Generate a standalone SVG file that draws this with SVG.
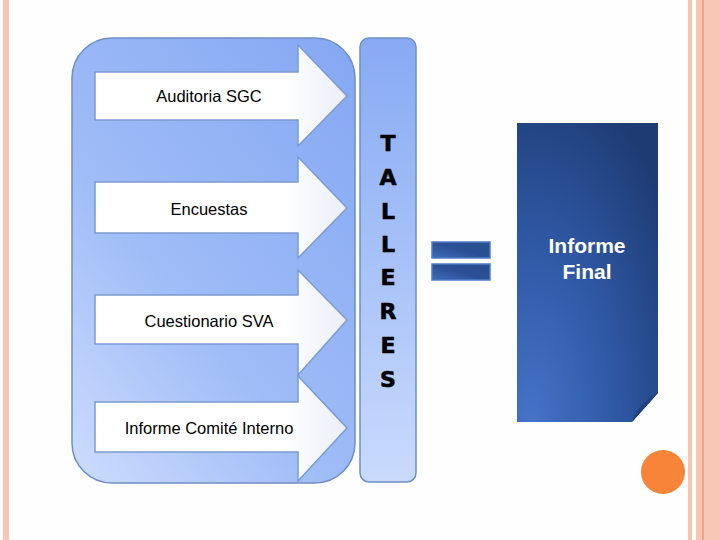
<svg xmlns="http://www.w3.org/2000/svg" width="720" height="540" viewBox="0 0 720 540">
<defs>
<linearGradient id="gBig" x1="0.9" y1="0" x2="0.1" y2="1">
<stop offset="0" stop-color="#87a9f3"/>
<stop offset="0.6" stop-color="#9fbcf7"/>
<stop offset="1" stop-color="#c8d9fc"/>
</linearGradient>
<linearGradient id="gCol" x1="0" y1="0" x2="0" y2="1">
<stop offset="0" stop-color="#87aaf4"/>
<stop offset="1" stop-color="#c9dafc"/>
</linearGradient>
<linearGradient id="gArrow" x1="0" y1="0" x2="1" y2="0">
<stop offset="0.75" stop-color="#ffffff"/>
<stop offset="1" stop-color="#eaeef6"/>
</linearGradient>
<radialGradient id="gDoc" cx="0.1" cy="1" r="1.2">
<stop offset="0" stop-color="#4673c8"/>
<stop offset="0.5" stop-color="#2f58a4"/>
<stop offset="1" stop-color="#1e3b73"/>
</radialGradient>
<linearGradient id="gEq" x1="0" y1="1" x2="1" y2="0">
<stop offset="0" stop-color="#3f6bbd"/>
<stop offset="0.5" stop-color="#2b4f95"/>
<stop offset="1" stop-color="#2a4d90"/>
</linearGradient>
<style>
.arrow{fill:url(#gArrow);stroke:#7c9bd0;stroke-width:1.5}
.lbl{font-family:"Liberation Sans",Arial,sans-serif;font-size:16.5px;fill:#000;text-anchor:middle}
.tl{font-family:"DejaVu Sans","Liberation Sans",sans-serif;font-weight:bold;font-size:22px;fill:#000;stroke:#000;stroke-width:0.6;text-anchor:middle}
.eq{fill:url(#gEq);stroke:#4f7cc4;stroke-width:1.5}
.fin{font-family:"Liberation Sans",Arial,sans-serif;font-size:21px;font-weight:bold;fill:#fff;text-anchor:middle}
</style>
</defs>
<rect x="0" y="0" width="720" height="540" fill="#fefefe"/>
<g id="borders">
<rect x="3" y="0" width="6" height="540" fill="#f8c5b1"/>
<rect x="688" y="0" width="4" height="540" fill="#f8c5b1"/>
<rect x="696" y="0" width="6" height="540" fill="#f8c5b1"/>
<rect x="702" y="0" width="2" height="540" fill="#eda586"/>
<rect x="704" y="0" width="16" height="540" fill="#f9c8b5"/>
</g>
<g id="container">
<rect x="72" y="38" width="283" height="445" rx="40" ry="40" fill="url(#gBig)" stroke="#6f8ec4" stroke-width="1.5"/>
</g>
<g id="a1">
<path class="arrow" d="M95,72 H298 V45 L347,96 L298,146 V120 H95 Z"/>
<text class="lbl" x="209" y="102">Auditoria SGC</text>
</g>
<g id="a2">
<path class="arrow" d="M95,182 H298 V157 L347,208 L298,258 V233 H95 Z"/>
<text class="lbl" x="209" y="215">Encuestas</text>
</g>
<g id="a3">
<path class="arrow" d="M95,295 H298 V270 L347,320 L298,375 V344 H95 Z"/>
<text class="lbl" x="209" y="327">Cuestionario SVA</text>
</g>
<g id="a4">
<path class="arrow" d="M95,402 H298 V376 L347,428 L298,481 V452 H95 Z"/>
<text class="lbl" x="209" y="434">Informe Comité Interno</text>
</g>
<g id="talleres">
<rect x="360" y="38" width="56" height="444" rx="9" ry="9" fill="url(#gCol)" stroke="#6f8ec4" stroke-width="1.5"/>
<text class="tl" x="388" y="151">T</text>
<text class="tl" x="388" y="185">A</text>
<text class="tl" x="388" y="219">L</text>
<text class="tl" x="388" y="252">L</text>
<text class="tl" x="388" y="285">E</text>
<text class="tl" x="388" y="319">R</text>
<text class="tl" x="388" y="353">E</text>
<text class="tl" x="388" y="387">S</text>
</g>
<g id="equals">
<rect class="eq" x="432" y="242" width="58" height="16"/>
<rect class="eq" x="432" y="264" width="58" height="16"/>
</g>
<g id="informe">
<path d="M517,123 H658 V393 L632,422 H517 Z" fill="url(#gDoc)"/>
<path d="M658,393 L632,422 Q638,404 658,393 Z" fill="#243f7a"/>
<text class="fin" x="587" y="253">Informe</text>
<text class="fin" x="587" y="279">Final</text>
</g>
<g id="dot">
<circle cx="663" cy="472" r="22" fill="#f8843a"/>
</g>
</svg>
